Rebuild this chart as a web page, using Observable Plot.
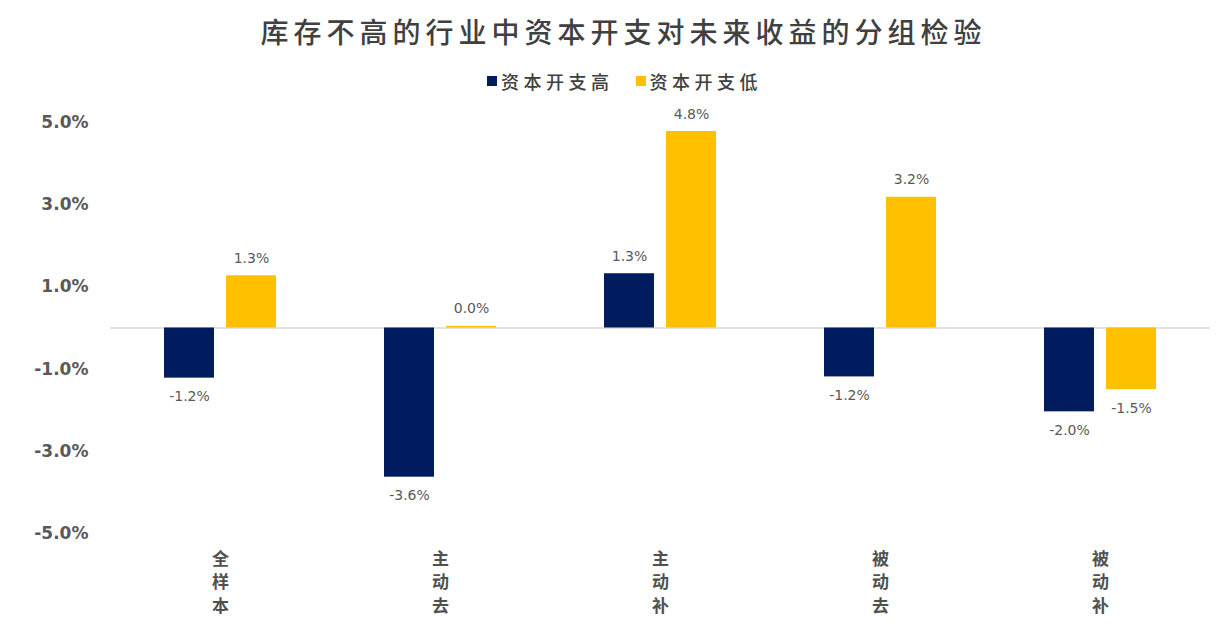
<!DOCTYPE html>
<html>
<head>
<meta charset="utf-8">
<script src="https://cdn.jsdelivr.net/npm/d3@7"></script>
<script src="https://cdn.jsdelivr.net/npm/@observablehq/plot@0.6"></script>
<style>
  body { margin: 0; background: #fff; font-family: "Noto Sans CJK SC", sans-serif; }
  #title { height: 62px; line-height: 62px; text-align: center; font-size: 28px; letter-spacing: 5px; color: #404040; font-weight: 500; padding-left: 20px; }
  #legend { height: 38px; display: flex; justify-content: center; align-items: center; gap: 22px; font-size: 18px; letter-spacing: 4.5px; color: #404040; font-weight: 500; padding-left: 22px; }
  #legend .item { display: flex; align-items: center; }
  #legend .sw { width: 10px; height: 10px; margin-right: 4px; }
  svg { display: block; }
</style>
</head>
<body>
<div id="title">库存不高的行业中资本开支对未来收益的分组检验</div>
<div id="legend"></div>
<div id="chart"></div>
<script>
const categories = ["全样本", "主动去", "主动补", "被动去", "被动补"];
const seriesNames = ["资本开支高", "资本开支低"];
const seriesColors = ["#001C5E", "#FFC000"];
const highValues = [-1.22, -3.63, 1.32, -1.19, -2.04];
const lowValues = [1.27, 0.04, 4.78, 3.18, -1.50];
const yTicks = [-5, -3, -1, 1, 3, 5];

const data = categories.flatMap((c, i) => [
  {category: c, series: seriesNames[0], value: highValues[i]},
  {category: c, series: seriesNames[1], value: lowValues[i]}
]);

const legend = document.getElementById("legend");
seriesNames.forEach((s, i) => {
  const item = document.createElement("div");
  item.className = "item";
  item.innerHTML = `<span class="sw" style="background:${seriesColors[i]}"></span><span>${s}</span>`;
  legend.appendChild(item);
});

const fmt = d => d.toFixed(1) + "%";

const chart = Plot.plot({
  width: 1227,
  height: 524,
  marginTop: 22,
  marginBottom: 91,
  marginLeft: 110,
  marginRight: 17,
  fx: {domain: categories, padding: 0, label: null},
  x: {domain: seriesNames, paddingInner: 0.1935, paddingOuter: 0.871, round: false, axis: null},
  y: {domain: [-5, 5], label: null},
  color: {domain: seriesNames, range: seriesColors},
  marks: [
    Plot.axisY({ticks: yTicks, tickFormat: fmt, tickSize: 0, tickPadding: 22, label: null,
      fontSize: 17, fontWeight: "bold", fill: "#595959", fontFamily: "DejaVu Sans"}),
    Plot.axisFx({anchor: "bottom", tickSize: 0, tickPadding: 14, label: null,
      tickFormat: d => d.split("").join("\n"), lineHeight: 1.41, lineAnchor: "top",
      fontSize: 17, fontWeight: "bold", fill: "#505050", fontFamily: "Noto Sans CJK SC"}),
    Plot.ruleY([0], {stroke: "#d9d9d9", strokeWidth: 1.5}),
    Plot.barY(data, {fx: "category", x: "series", y: "value", fill: "series"}),
    Plot.text(data.filter(d => d.value >= 0), {fx: "category", x: "series", y: "value", text: d => fmt(d.value),
      dy: -13, lineAnchor: "bottom", fontSize: 14, fill: "#595959", fontFamily: "DejaVu Sans"}),
    Plot.text(data.filter(d => d.value < 0), {fx: "category", x: "series", y: "value", text: d => fmt(d.value),
      dy: 13, lineAnchor: "top", fontSize: 14, fill: "#595959", fontFamily: "DejaVu Sans"})
  ]
});
document.getElementById("chart").appendChild(chart);
</script>
</body>
</html>
